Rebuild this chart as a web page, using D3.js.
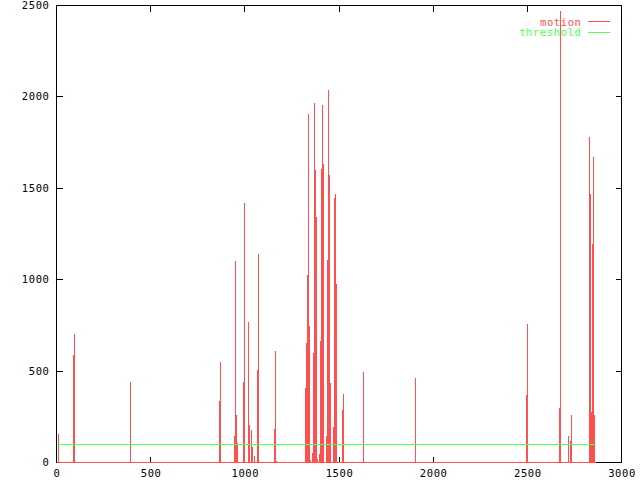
<!DOCTYPE html>
<html>
<head>
<meta charset="utf-8">
<script src="https://cdn.jsdelivr.net/npm/d3@7"></script>
<style>
  html, body { margin: 0; padding: 0; background: #ffffff; }
  svg { display: block; }
  text { font-family: "DejaVu Sans Mono", "Liberation Mono", monospace; font-size: 10.5px; letter-spacing: 0.6px; }
</style>
</head>
<body>
<div id="chart"></div>
<script>
// ---- data ----
const frames = [12, 33, 92, 97, 395, 866, 872, 947, 952, 956, 961, 995, 1000, 1021, 1025, 1035, 1041, 1051,
  1069, 1074, 1159, 1164, 1168, 1319, 1324, 1329, 1334, 1339, 1345, 1351, 1361, 1366, 1371, 1377, 1380,
  1386, 1392, 1397, 1403, 1408, 1414, 1418, 1424, 1434, 1439, 1446, 1450, 1455, 1471, 1476, 1481, 1487,
  1519, 1524, 1632, 1908, 1913, 2497, 2503, 2672, 2678, 2716, 2721, 2727, 2732, 2737, 2832, 2836, 2842,
  2847, 2852, 2858];
const motion = [156, 8, 589, 704, 442, 337, 555, 145, 1107, 260, 110, 442, 1420, 774, 206, 178, 85, 37,
  511, 1146, 185, 615, 10, 8, 409, 655, 1026, 1910, 748, 15, 56, 600, 1972, 1605, 1343,
  20, 8, 48, 666, 1611, 1961, 1638, 8, 146, 1108, 2043, 1578, 436, 196, 1452, 1474, 977,
  289, 380, 496, 467, 8, 374, 763, 303, 2475, 150, 5, 123, 216, 265, 1784, 1474, 281,
  1200, 1676, 265];
const firstFrame = 0;
const lastFrame = 2862;
const thresholdValue = 100;
const xTicks = [0, 500, 1000, 1500, 2000, 2500, 3000];
const yTicks = [0, 500, 1000, 1500, 2000, 2500];
const seriesNames = ["motion", "threshold"];
const seriesColors = ["#ff5050", "#50ff50"];

// ---- chart ----
const W = 640, H = 480;
const svg = d3.select("#chart").append("svg").attr("width", W).attr("height", H);

const x = d3.scaleLinear().domain([0, 3000]).range([56, 621]);
const y = d3.scaleLinear().domain([0, 2500]).range([462, 5]);
const px = v => Math.round(x(v)) + 0.5;
const py = v => Math.round(y(v)) + 0.5;

// border
svg.append("rect")
  .attr("x", px(0)).attr("y", py(2500))
  .attr("width", px(3000) - px(0)).attr("height", py(0) - py(2500))
  .attr("fill", "none").attr("stroke", "#000").attr("stroke-width", 1)
  .attr("shape-rendering", "crispEdges");

const tickLen = 6;
const g = svg.append("g").attr("stroke", "#000").attr("shape-rendering", "crispEdges");
xTicks.forEach(t => {
  g.append("line").attr("x1", px(t)).attr("x2", px(t)).attr("y1", py(0)).attr("y2", py(0) - tickLen);
  g.append("line").attr("x1", px(t)).attr("x2", px(t)).attr("y1", py(2500)).attr("y2", py(2500) + tickLen);
});
yTicks.forEach(t => {
  g.append("line").attr("x1", px(0)).attr("x2", px(0) + tickLen).attr("y1", py(t)).attr("y2", py(t));
  g.append("line").attr("x1", px(3000)).attr("x2", px(3000) - tickLen).attr("y1", py(t)).attr("y2", py(t));
});

// tick labels
svg.append("g").selectAll("text").data(xTicks).join("text")
  .attr("x", d => x(d) + 1).attr("y", 477)
  .attr("text-anchor", "middle").attr("fill", "#000")
  .text(d => d);
svg.append("g").selectAll("text").data(yTicks).join("text")
  .attr("x", 49.5).attr("y", d => y(d) + 4)
  .attr("text-anchor", "end").attr("fill", "#000")
  .text(d => d);

// motion series: baseline with a vertical rise and fall at each spike frame
const pts = [[firstFrame, 0]];
frames.forEach((f, i) => {
  pts.push([f, 0], [f, motion[i]], [f, 0]);
});
pts.push([lastFrame, 0]);
const line = d3.line().x(d => px(d[0])).y(d => py(d[1]));
svg.append("path").datum(pts)
  .attr("d", line)
  .attr("fill", "none").attr("stroke", seriesColors[0]).attr("stroke-width", 1)
  .attr("stroke-linejoin", "miter").attr("stroke-linecap", "butt")
  .attr("shape-rendering", "crispEdges");

// threshold
svg.append("path").datum([[firstFrame, thresholdValue], [lastFrame, thresholdValue]])
  .attr("d", line)
  .attr("fill", "none").attr("stroke", seriesColors[1]).attr("stroke-width", 1)
  .attr("shape-rendering", "crispEdges");

// legend
const legY = [21, 32];
const legBase = [25.5, 36];
seriesNames.forEach((name, i) => {
  svg.append("text").attr("x", 581.5).attr("y", legBase[i])
    .attr("text-anchor", "end").attr("fill", seriesColors[i]).text(name);
  svg.append("line").attr("x1", 588).attr("x2", 610)
    .attr("y1", legY[i] + 0.5).attr("y2", legY[i] + 0.5)
    .attr("stroke", seriesColors[i]).attr("shape-rendering", "crispEdges");
});
</script>
</body>
</html>
